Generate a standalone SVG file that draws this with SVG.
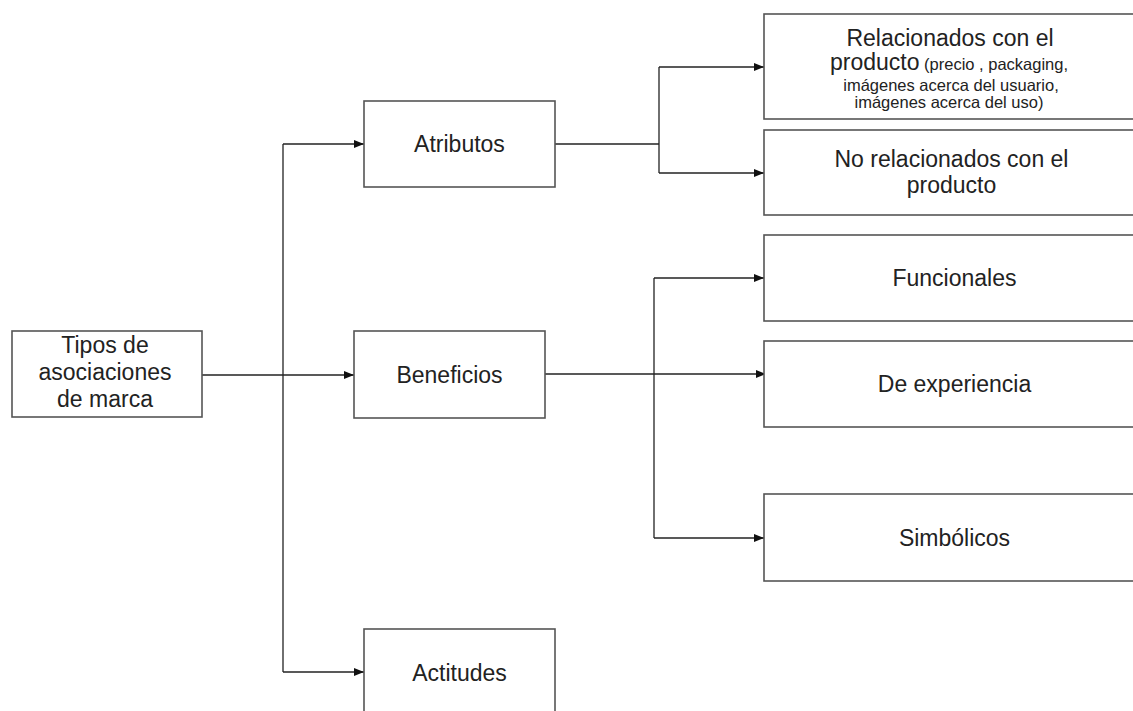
<svg xmlns="http://www.w3.org/2000/svg" width="1133" height="711" viewBox="0 0 1133 711">
<defs>
<marker id="arr" markerWidth="10" markerHeight="8" refX="10" refY="4" orient="auto" markerUnits="userSpaceOnUse">
<path d="M0,0 L10,4 L0,8 Z" fill="#111"/>
</marker>
<style>
.box{fill:#fff;stroke:#555;stroke-width:1.6}
.t{font-family:"Liberation Sans",Arial,sans-serif;font-size:23px;fill:#222;text-anchor:middle}
.s{font-size:16.5px}
.c{fill:none;stroke:#222;stroke-width:1.3}
</style>
</defs>
<rect width="1133" height="711" fill="#fff"/>
<g id="connectors">
<path class="c" d="M202,375 H354" marker-end="url(#arr)"/>
<path class="c" d="M283,144 V672"/>
<path class="c" d="M283,144 H364" marker-end="url(#arr)"/>
<path class="c" d="M283,672 H364" marker-end="url(#arr)"/>
<path class="c" d="M555,144 H659"/>
<path class="c" d="M659,67 V173"/>
<path class="c" d="M659,67 H764" marker-end="url(#arr)"/>
<path class="c" d="M659,173 H764" marker-end="url(#arr)"/>
<path class="c" d="M545,374 H766" marker-end="url(#arr)"/>
<path class="c" d="M654,278 V538"/>
<path class="c" d="M654,278 H764" marker-end="url(#arr)"/>
<path class="c" d="M654,538 H764" marker-end="url(#arr)"/>
</g>
<g id="tipos">
<rect class="box" x="12" y="331" width="190" height="86"/>
<text class="t" x="105" y="353">Tipos de</text>
<text class="t" x="105" y="380">asociaciones</text>
<text class="t" x="105" y="406.5">de marca</text>
</g>
<g id="atributos">
<rect class="box" x="364" y="101" width="191" height="86"/>
<text class="t" x="459.5" y="151.5">Atributos</text>
</g>
<g id="beneficios">
<rect class="box" x="354" y="331" width="191" height="87"/>
<text class="t" x="449.5" y="382.5">Beneficios</text>
</g>
<g id="actitudes">
<rect class="box" x="364" y="629" width="191" height="100"/>
<text class="t" x="459.5" y="681">Actitudes</text>
</g>
<g id="relacionados">
<rect class="box" x="764" y="14" width="380" height="105"/>
<text class="t" x="950" y="45.5">Relacionados con el</text>
<text class="t" x="949" y="69.5">producto<tspan class="s"> (precio , packaging,</tspan></text>
<text class="t s" x="951" y="91">imágenes acerca del usuario,</text>
<text class="t s" x="949" y="108.3">imágenes acerca del uso)</text>
</g>
<g id="norelacionados">
<rect class="box" x="764" y="130" width="380" height="85"/>
<text class="t" x="951.5" y="167.3">No relacionados con el</text>
<text class="t" x="951.5" y="193.3">producto</text>
</g>
<g id="funcionales">
<rect class="box" x="764" y="235" width="380" height="86"/>
<text class="t" x="954.5" y="285.7">Funcionales</text>
</g>
<g id="experiencia">
<rect class="box" x="764" y="341" width="380" height="86"/>
<text class="t" x="954.5" y="391.7">De experiencia</text>
</g>
<g id="simbolicos">
<rect class="box" x="764" y="494" width="380" height="87"/>
<text class="t" x="954.5" y="546">Simbólicos</text>
</g>
</svg>
